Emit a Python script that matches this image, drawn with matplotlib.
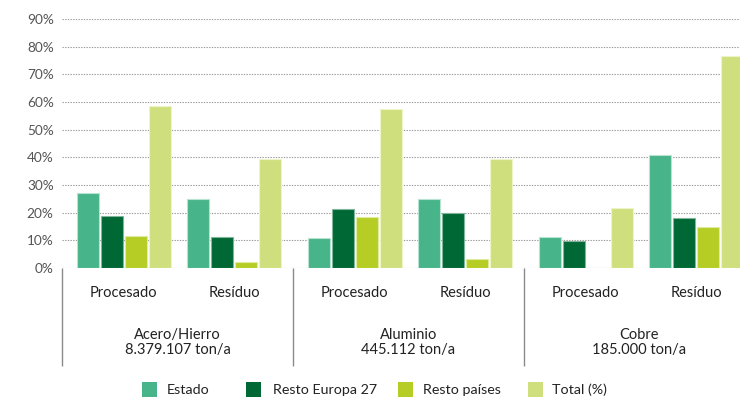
import matplotlib
matplotlib.use("Agg")
import matplotlib.pyplot as plt
from matplotlib.patches import Rectangle

materials = ["Acero/Hierro\n8.379.107 ton/a", "Aluminio\n445.112 ton/a", "Cobre\n185.000 ton/a"]
subgroups = ["Procesado", "Resíduo"]
series = ["Estado", "Resto Europa 27", "Resto países", "Total (%)"]
colors = ["#48B48A", "#006835", "#B5CD25", "#D0DF7E"]
edges = ["#B8E3D0", "#7FB59A", "#E0EBA0", "#EEF4C8"]

# values [material][subgroup][series] in %
estado = [[27.1, 24.9], [11.0, 24.9], [11.3, 40.8]]
europa = [[18.7, 11.3], [21.4, 19.9], [9.7, 17.9]]
paises = [[11.7, 2.0], [18.3, 3.4], [0.0, 14.8]]
total = [[58.5, 39.5], [57.6, 39.5], [21.8, 76.5]]
values = [estado, europa, paises, total]

yticks = [0, 10, 20, 30, 40, 50, 60, 70, 80, 90]

W, H = 740, 400
fig = plt.figure(figsize=(7.4, 4.0), dpi=100)
ax = fig.add_axes([62/W, 132/H, 693/W, 249/H])
ax.set_xlim(0, 3)
ax.set_ylim(0, 90)

sub_pos = [0.268, 0.745]
pitch = 0.104
width = 0.093
for k, vals in enumerate(values):
    xs, hs = [], []
    for g in range(3):
        for s in range(2):
            xs.append(g + sub_pos[s] + (k - 1.5) * pitch)
            hs.append(vals[g][s])
    ax.bar(xs, hs, width=width, color=colors[k], edgecolor=edges[k], linewidth=0.8, zorder=3)

for y in yticks:
    ax.axhline(y, color="#9a9a9a", lw=0.8, ls=(0, (1.2, 1.2)), zorder=1)

ax.set_yticks(yticks)
ax.set_yticklabels([f"{v}%" for v in yticks], fontsize=9.8, color="#555555", family="Lato")
ax.tick_params(axis="y", length=0, pad=6)
ax.set_xticks([])
for sp in ax.spines.values():
    sp.set_visible(False)

ax.vlines([0, 1, 2], -35.5, 0, colors="#8a8a8a", lw=1.0, clip_on=False)

for g in range(3):
    for s in range(2):
        ax.text(g + sub_pos[s], -9.2, subgroups[s], ha="center", va="center",
                fontsize=10.5, color="#222222", family="Lato", clip_on=False)
    ax.text(g + 0.5, -26.9, materials[g], ha="center", va="center",
            fontsize=10.5, color="#222222", family="Lato", linespacing=1.15, clip_on=False)

# legend drawn manually
sq_x = [142, 246, 398, 528]
tx_x = [167, 273, 423, 552]
for c, lab, sx, tx in zip(colors, series, sq_x, tx_x):
    fig.add_artist(Rectangle((sx/W, (H-397)/H), 15/W, 15/H, transform=fig.transFigure,
                             facecolor=c, edgecolor="none"))
    fig.text(tx/W, (H-390)/H, lab, ha="left", va="center", fontsize=10.3,
             color="#222222", family="Lato")

fig.savefig("out.png", dpi=100)
